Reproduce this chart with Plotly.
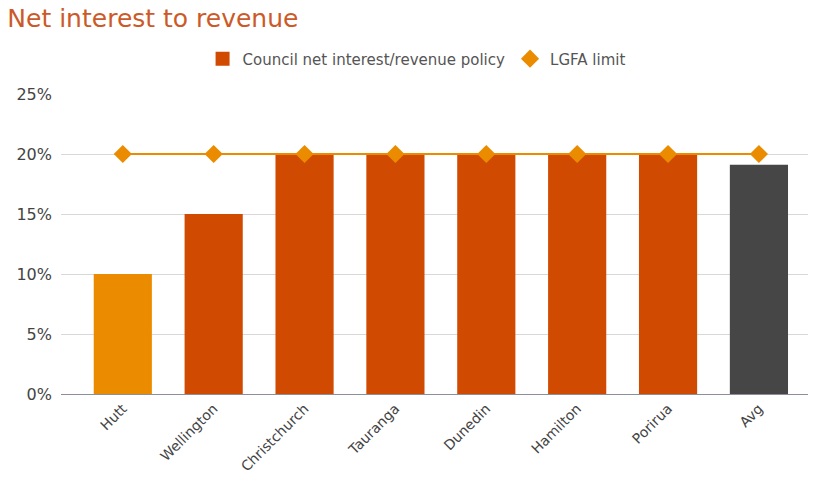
import plotly.graph_objects as go

councils = ["Hutt", "Wellington", "Christchurch", "Tauranga", "Dunedin", "Hamilton", "Porirua", "Avg"]
policy_pct = [10, 15, 20, 20, 20, 20, 20, 19.1]
lgfa_limit_pct = [20, 20, 20, 20, 20, 20, 20, 20]
y_ticks = [0, 5, 10, 15, 20, 25]

POLICY_RED = "#D04A02"
LIMIT_ORANGE = "#EB8C00"
bar_colors = [LIMIT_ORANGE] + [POLICY_RED] * 6 + ["#464646"]

fig = go.Figure()
fig.add_trace(go.Bar(
    x=councils, y=policy_pct, name="Council net interest/revenue policy",
    marker=dict(color=bar_colors, line=dict(width=0)), width=0.64, showlegend=False,
))
fig.add_trace(go.Scatter(
    x=councils, y=lgfa_limit_pct, name="LGFA limit", mode="lines+markers",
    line=dict(color=LIMIT_ORANGE, width=2),
    marker=dict(symbol="diamond", size=14, color=LIMIT_ORANGE), showlegend=False,
))
# legend entries: a square swatch for the policy bars and a plain diamond for the limit
fig.add_trace(go.Scatter(
    x=[None], y=[None], mode="markers", name="Council net interest/revenue policy",
    marker=dict(symbol="square", size=14, color=POLICY_RED),
))
fig.add_trace(go.Scatter(
    x=[None], y=[None], mode="markers", name="LGFA limit",
    marker=dict(symbol="diamond", size=14, color=LIMIT_ORANGE),
))

fig.update_layout(
    width=816, height=483,
    margin=dict(l=61, r=8, t=94, b=89),
    paper_bgcolor="white", plot_bgcolor="white",
    font=dict(family="DejaVu Sans, sans-serif", color="#444444", size=14),
    title=dict(text="Net interest to revenue", x=0.009, xanchor="left", y=0.98, yanchor="top",
               font=dict(size=25, color="#CC5A28")),
    legend=dict(orientation="h", x=0.476, xanchor="center", y=1.117, yanchor="middle",
                font=dict(size=15, color="#555555"), itemwidth=30, tracegroupgap=0),
    showlegend=True,
)
fig.update_xaxes(range=[-0.68, 7.54], tickangle=-45, showgrid=False,
                 showline=True, linecolor="#8a8f99", linewidth=1, ticks="",
                 tickfont=dict(size=14, color="#444444"))
fig.update_yaxes(range=[0, 25], tickvals=y_ticks, ticktext=[f"{v}%" for v in y_ticks],
                 showgrid=True, gridcolor="#d8d8d8", gridwidth=1, zeroline=False,
                 ticks="", tickfont=dict(size=16, color="#444444"), ticklabelstandoff=8)

fig.write_html("out.html")
